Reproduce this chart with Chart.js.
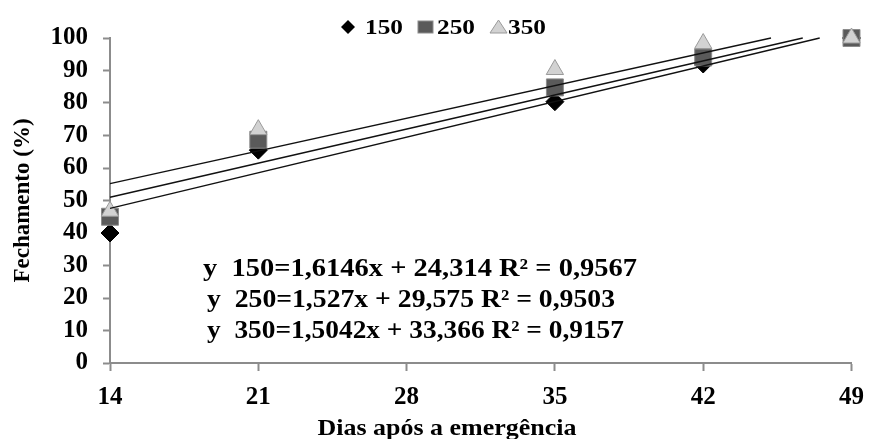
<!DOCTYPE html>
<html>
<head>
<meta charset="utf-8">
<script src="https://cdn.jsdelivr.net/npm/chart.js@4"></script>
<style>
  html, body { margin: 0; padding: 0; background: #fff; }
  #wrap { width: 876px; height: 439px; position: relative; }
</style>
</head>
<body>
<div id="wrap"><canvas id="c" width="876" height="439"></canvas></div>
<script>
// ---- data ----
const days = [14, 21, 35, 42, 49];
const s150 = [40, 65.5, 80.4, 92, 100];
const s250 = [45, 68.7, 84.8, 94, 100];
const s350 = [46.7, 71.8, 90.3, 98.3, 100];
const seriesNames = ['150', '250', '350'];

// trend-line end points
const trendX150 = [14, 47.5], trendY150 = [47.6, 100];
const trendX250 = [14, 46.7], trendY250 = [51.0, 100];
const trendX350 = [14, 45.2], trendY350 = [55.2, 100];

const xTicks = [14, 21, 28, 35, 42, 49];
const yTicks = [0, 10, 20, 30, 40, 50, 60, 70, 80, 90, 100];

const equations = [
  'y  150=1,6146x + 24,314 R² = 0,9567',
  'y  250=1,527x + 29,575 R² = 0,9503',
  'y  350=1,5042x + 33,366 R² = 0,9157'
];
const xTitle = 'Dias após a emergência';
const yTitle = 'Fechamento (%)';

const FONT = '"Liberation Serif", "Times New Roman", serif';

function pts(xs, ys) { return xs.map((x, i) => ({ x: x, y: ys[i] })); }

const trendStyle = {
  type: 'scatter', showLine: true, borderColor: '#111', borderWidth: 1.3,
  pointRadius: 0, pointHoverRadius: 0, fill: false, order: 0, clip: false
};

const data = {
  datasets: [
    Object.assign({ label: 't150', data: pts(trendX150, trendY150) }, trendStyle),
    Object.assign({ label: 't250', data: pts(trendX250, trendY250) }, trendStyle),
    Object.assign({ label: 't350', data: pts(trendX350, trendY350) }, trendStyle),
    { label: seriesNames[2], data: pts(days, s350), pointStyle: 'triangle', pointRadius: 10,
      backgroundColor: '#d2d2d2', borderColor: '#9a9a9a', borderWidth: 1, order: 1, clip: false },
    { label: seriesNames[1], data: pts(days, s250), pointStyle: 'rect', pointRadius: 12,
      backgroundColor: '#5a5a5a', borderColor: '#8c8c8c', borderWidth: 1, order: 2, clip: false },
    { label: seriesNames[0], data: pts(days, s150), pointStyle: 'rectRot', pointRadius: 9,
      backgroundColor: '#000', borderColor: '#000', borderWidth: 1, order: 3, clip: false }
  ]
};

const extras = {
  id: 'extras',
  afterDraw(chart) {
    const ctx = chart.ctx;
    ctx.save();
    ctx.fillStyle = '#000';
    // equations
    ctx.font = 'bold 25px ' + FONT;
    ctx.textBaseline = 'alphabetic';
    ctx.textAlign = 'left';
    const eqX = [203, 207, 207], eqY = [276, 307, 338], eqW = [434, 408, 417];
    equations.forEach((t, i) => {
      const w = ctx.measureText(t).width;
      ctx.save();
      ctx.translate(eqX[i], eqY[i]);
      ctx.scale(eqW[i] / w, 1);
      ctx.fillText(t, 0, 0);
      ctx.restore();
    });
    // x title
    ctx.font = 'bold 24px ' + FONT;
    ctx.textAlign = 'center';
    const tw = ctx.measureText(xTitle).width;
    ctx.save();
    ctx.translate(447, 435);
    ctx.scale(259 / tw, 1);
    ctx.fillText(xTitle, 0, 0);
    ctx.restore();
    // legend
    ctx.font = 'bold 21px ' + FONT;
    ctx.textAlign = 'left';
    const ly = 27;
    ctx.fillStyle = '#000';
    ctx.beginPath();
    ctx.moveTo(348, ly - 7); ctx.lineTo(355, ly); ctx.lineTo(348, ly + 7); ctx.lineTo(341, ly);
    ctx.closePath(); ctx.fill();
    ctx.fillStyle = '#5a5a5a'; ctx.strokeStyle = '#8c8c8c'; ctx.lineWidth = 1;
    ctx.fillRect(418, ly - 6, 15, 12); ctx.strokeRect(418, ly - 6, 15, 12);
    ctx.fillStyle = '#d2d2d2'; ctx.strokeStyle = '#9a9a9a';
    ctx.beginPath();
    ctx.moveTo(498.5, ly - 7); ctx.lineTo(507, ly + 6); ctx.lineTo(490, ly + 6);
    ctx.closePath(); ctx.fill(); ctx.stroke();
    ctx.fillStyle = '#000';
    const lx = [365, 437, 508];
    seriesNames.forEach((n, i) => {
      const w = ctx.measureText(n).width;
      ctx.save();
      ctx.translate(lx[i], 34);
      ctx.scale(38 / w, 1);
      ctx.fillText(n, 0, 0);
      ctx.restore();
    });
    ctx.restore();
  }
};

new Chart(document.getElementById('c'), {
  type: 'scatter',
  data: data,
  plugins: [extras],
  options: {
    responsive: false,
    animation: false,
    devicePixelRatio: 1,
    layout: { padding: { left: 0, right: 17, top: 38, bottom: 0 } },
    plugins: {
      legend: { display: false },
      tooltip: { enabled: false }
    },
    scales: {
      x: {
        type: 'linear', min: 14, max: 49,
        afterBuildTicks(scale) { scale.ticks = xTicks.map(v => ({ value: v })); },
        afterFit(scale) { scale.height = 76; },
        grid: { display: true, drawOnChartArea: false, drawTicks: true, tickLength: 8,
                tickColor: '#8c8c8c', tickWidth: 2 },
        border: { display: true, color: '#8c8c8c', width: 2 },
        ticks: { color: '#000', padding: 12, maxRotation: 0, autoSkip: false,
                 font: { family: FONT, size: 25, weight: 'bold' } }
      },
      y: {
        type: 'linear', min: 0, max: 100,
        afterBuildTicks(scale) { scale.ticks = yTicks.map(v => ({ value: v })); },
        afterFit(scale) { scale.width = 110; },
        grid: { display: true, drawOnChartArea: false, drawTicks: true, tickLength: 7,
                tickColor: '#8c8c8c', tickWidth: 2 },
        border: { display: true, color: '#8c8c8c', width: 2 },
        ticks: { color: '#000', padding: 15, autoSkip: false,
                 font: { family: FONT, size: 25, weight: 'bold' } },
        title: { display: true, text: yTitle, color: '#000', padding: { top: 9, bottom: 0 },
                 font: { family: FONT, size: 23, weight: 'bold' } }
      }
    }
  }
});
</script>
</body>
</html>
